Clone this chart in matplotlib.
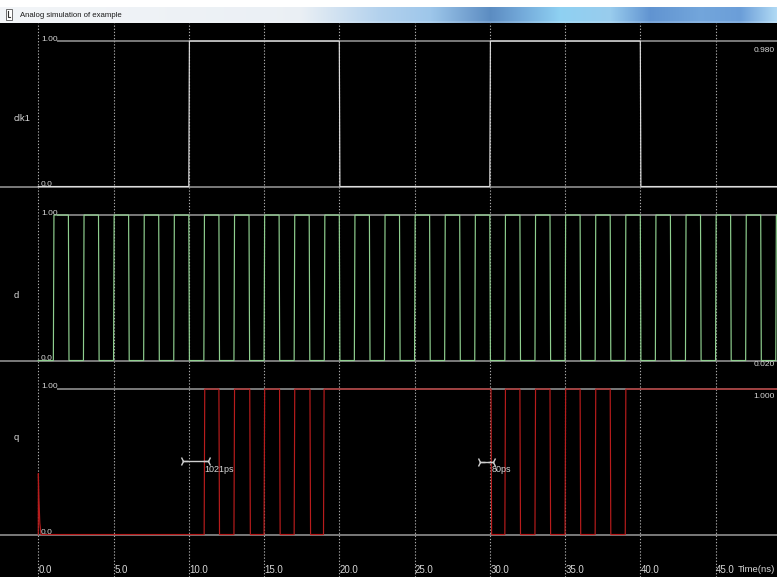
import numpy as np
import matplotlib
matplotlib.use("Agg")
import matplotlib.pyplot as plt

# ---------------- data ----------------
title_text = "Analog simulation of example"
signal_names = ["clk1", "d", "q"]
readouts = ["0.980", "0.020", "1.000"]
tick_values = [0.0, 5.0, 10.0, 15.0, 20.0, 25.0, 30.0, 35.0, 40.0, 45.0]
x_label = "Time(ns)"

clk_edges = [10.0, 20.0, 30.0, 40.0]          # start low
d_edges = [1.0, 2.0, 3.0, 4.0, 5.0, 6.0, 7.0, 8.0, 9.0, 10.0,
           11.0, 12.0, 13.0, 14.0, 15.0, 16.0, 17.0, 18.0, 19.0, 20.0,
           21.0, 22.0, 23.0, 24.0, 25.0, 26.0, 27.0, 28.0, 29.0, 30.0,
           31.0, 32.0, 33.0, 34.0, 35.0, 36.0, 37.0, 38.0, 39.0, 40.0,
           41.0, 42.0, 43.0, 44.0, 45.0, 46.0, 47.0, 48.0, 49.0, 50.0]  # start low
q_edges = [11.02, 12.0, 13.0, 14.05, 15.0, 16.03, 17.0, 18.05, 18.95,
           30.08, 31.0, 32.0, 33.0, 34.0, 35.0, 36.0, 37.0, 38.0, 39.0]  # start low
q_spike_t = [0.0, 0.005, 0.04, 0.10, 0.18]
q_spike_v = [0.0, 0.42, 0.25, 0.08, 0.0]
t_end = 50.0

delay_marks = [(9.6, 11.25, 0.507, "1021ps"), (29.35, 30.23, 0.50, "80ps")]

# ---------------- helpers ----------------
W, H = 777, 577
fig = plt.figure(figsize=(W / 100, H / 100), dpi=100)
fig.patch.set_facecolor("black")


def fx(x):
    return x / W


def fy(y):
    return 1 - y / H


def square_wave(edges, start_level, t0=0.0, tend=t_end, tr=0.04):
    ts, vs = [t0], [start_level]
    lvl = start_level
    for e in edges:
        ts.append(e)
        vs.append(lvl)
        lvl = 1 - lvl
        ts.append(e + tr)
        vs.append(lvl)
    ts.append(tend)
    vs.append(lvl)
    return np.array(ts), np.array(vs)


x0_px, px_per_ns = 38.3, 15.05
xlim = ((0 - x0_px) / px_per_ns, (W - x0_px) / px_per_ns)

# ---------------- background axes (grid) ----------------
bg = fig.add_axes([0, 0, 1, fy(23)])
bg.set_facecolor("black")
bg.set_xlim(*xlim)
bg.set_ylim(0, 1)
bg.axis("off")
for v in tick_values:
    bg.axvline(v, color="#a8a8a8", lw=0.8, ls=(0, (1.2, 1.6)), zorder=1)

# ---------------- title bar ----------------
tb = fig.add_axes([0, fy(23), 1, 23 / H])
tb.axis("off")
xs = np.arange(W)
stops_x = [0, 300, 380, 430, 490, 520, 560, 610, 650, 700, 740, 777]
stops_c = np.array([
    [0.95, 0.96, 0.97], [0.92, 0.94, 0.96], [0.70, 0.82, 0.93], [0.62, 0.78, 0.92],
    [0.36, 0.55, 0.76], [0.45, 0.66, 0.85], [0.56, 0.82, 0.95], [0.60, 0.80, 0.93],
    [0.38, 0.58, 0.82], [0.45, 0.65, 0.86], [0.42, 0.62, 0.85], [0.70, 0.86, 0.96]])
row = np.stack([np.interp(xs, stops_x, stops_c[:, k]) for k in range(3)], axis=1)
img = np.ones((23, W, 3))
for r in range(7, 23):
    img[r] = row
img[:7] = 1.0
img[21:23] = img[21:23] * 0.85 + 0.15
tb.imshow(img, aspect="auto", extent=(0, W, 23, 0), interpolation="bilinear")
tb.set_xlim(0, W)
tb.set_ylim(23, 0)
tb.add_patch(plt.Rectangle((6, 9), 6, 11, facecolor="white", edgecolor="#555555", lw=0.6))
tb.plot([8, 8, 10], [11, 17, 17], color="#333333", lw=0.8)
fig.text(fx(20), fy(15.5), title_text, fontsize=5.6, color="#1a1a1a",
         family="Liberation Sans", va="center", ha="left")

# ---------------- panels ----------------
panel_tops = [23, 197, 371]
panel_h = 174
ylim = (-0.072, 1.124)
colors = ["#dcdcdc", "#8fcf8f", "#b81c1c"]
ref_color = "#9a9a9a"

clk_t, clk_v = square_wave(clk_edges, 0)
d_t, d_v = square_wave(d_edges, 0)
q_t, q_v = square_wave(q_edges, 0, t0=q_spike_t[-1])
q_t = np.concatenate([q_spike_t[:-1], q_t])
q_v = np.concatenate([q_spike_v[:-1], q_v])
waves = [(clk_t, clk_v), (d_t, d_v), (q_t, q_v)]

axes = []
for i, top in enumerate(panel_tops):
    ax = fig.add_axes([0, fy(top + panel_h), 1, panel_h / H])
    ax.patch.set_alpha(0)
    ax.set_xlim(*xlim)
    ax.set_ylim(*ylim)
    ax.axis("off")
    ax.hlines(1.0, 1.25, t_end, color=ref_color, lw=1.1, zorder=2)
    ax.hlines(0.0, xlim[0], t_end, color=ref_color, lw=1.1, zorder=2)
    t, v = waves[i]
    ax.plot(t, v, color=colors[i], lw=0.85, zorder=3, solid_joinstyle="miter")
    axes.append(ax)

# delay markers on q panel
for (a, b, yv, lab) in delay_marks:
    axes[2].plot([a, b], [yv, yv], color="#cfcfcf", lw=1.0, zorder=4)
    axes[2].plot([a], [yv], marker="4", ms=7, mew=1.0, color="#cfcfcf", zorder=4)
    axes[2].plot([b], [yv], marker="3", ms=7, mew=1.0, color="#cfcfcf", zorder=4)

txt_kw = dict(color="#d8d8d8", family="Liberation Sans", va="center", ha="left")
fig.text(fx(204), fy(470), delay_marks[0][3], fontsize=6.5, **txt_kw)
fig.text(fx(492), fy(470), delay_marks[1][3], fontsize=6.5, **txt_kw)

# signal names
for name, y in zip(signal_names, [118, 295, 438]):
    fig.text(fx(14), fy(y), name, fontsize=6.8, **txt_kw)

# level labels
for hi_y, lo_y in [(39.5, 184), (213.5, 358), (387, 533)]:
    fig.text(fx(41), fy(hi_y), "1.00", fontsize=6.0, **txt_kw)
    fig.text(fx(41), fy(lo_y), "0.0", fontsize=6.0, **txt_kw)

# readouts (right aligned at the figure edge)
rkw = dict(txt_kw)
rkw["ha"] = "right"
for lab, y in zip(readouts, [51, 364, 397]):
    fig.text(fx(775), fy(y), lab, fontsize=6.0, **rkw)

# tick labels
for v in tick_values:
    xp = x0_px + v * px_per_ns
    fig.text(fx(xp + 0.5), fy(570), f"{v:.1f}", fontsize=7.0, **txt_kw)
fig.text(fx(775), fy(570), x_label, fontsize=6.8, **rkw)

fig.savefig("out.png", dpi=100, facecolor="black")
